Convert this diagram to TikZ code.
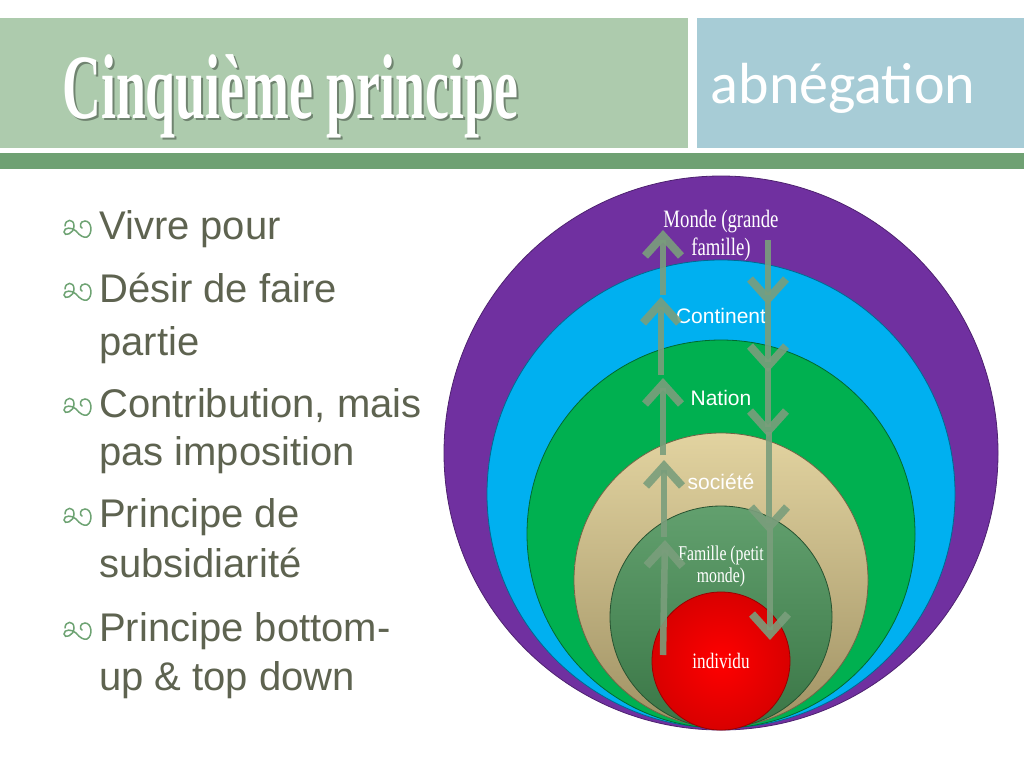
\documentclass[tikz,border=0pt]{standalone}
\usepackage{fontspec}
\usetikzlibrary{arrows.meta}
\newfontfamily\bodyfont{Liberation Sans}
\newfontfamily\serifc{Liberation Serif}
\newfontfamily\calib{Carlito}
\definecolor{titlegreen}{RGB}{173,203,173}
\definecolor{boxblue}{RGB}{167,204,214}
\definecolor{bargreen}{RGB}{111,161,115}
\definecolor{bodytext}{RGB}{94,99,80}
\definecolor{bulletgreen}{RGB}{110,163,115}
\definecolor{cpurple}{RGB}{112,48,160}
\definecolor{cblue}{RGB}{0,176,240}
\definecolor{cgreen}{RGB}{0,176,80}
\definecolor{tantop}{RGB}{226,211,160}
\definecolor{tanbot}{RGB}{160,146,100}
\definecolor{famtop}{RGB}{98,160,110}
\definecolor{fambot}{RGB}{58,118,70}
\definecolor{arrowc}{RGB}{122,158,124}
\tikzset{
  bodyline/.style={anchor=base west, align=left, text=bodytext,
    font=\bodyfont\fontsize{40}{50}\selectfont, inner sep=0pt},
  ringlabel/.style={text=white, font=\bodyfont\fontsize{21}{24}\selectfont, inner sep=0pt, anchor=base},
  upar/.style={draw=arrowc, opacity=0.9, line width=6.5pt,
    -{Straight Barb[length=20pt,width=36pt,line width=8pt]}},
  sobullet/.pic={
    \draw[bulletgreen, line width=1.5pt, line cap=round]
      (3,-13) .. controls (3,-20) and (12,-21) .. (12,-13)
      .. controls (12,-5) and (2,-2) .. (2,-7)
      .. controls (2,-12) and (10,-12) .. (14,-8)
      .. controls (18,-3) and (22,-1) .. (25,-2)
      .. controls (31,-5) and (30,-18) .. (23,-18)
      .. controls (18,-18) and (17,-12) .. (20,-11);
  }
}
\begin{document}
\begin{tikzpicture}[x=1pt,y=-1pt]
\useasboundingbox (0,0) rectangle (1024,768);
\fill[white] (0,0) rectangle (1024,768);
% header
\fill[titlegreen] (0,18) rectangle (688,148);
\fill[boxblue] (697,18) rectangle (1024,148);
\fill[bargreen] (0,153) rectangle (1024,169);
\node[anchor=base west, inner sep=0pt, text=black, opacity=0.35] (titleshadow) at (64,120)
  {\serifc\bfseries\fontsize{92}{92}\selectfont\scalebox{0.585}[1]{Cinquième principe}};
\node[anchor=base west, inner sep=0pt, text=white] (title) at (62,118)
  {\serifc\bfseries\fontsize{92}{92}\selectfont\scalebox{0.585}[1]{Cinquième principe}};
\node[anchor=base, inner sep=0pt, text=white] (subtitle) at (843,103)
  {\calib\fontsize{58}{58}\selectfont abnégation};
% bullets
\pic at (62,239) {sobullet};
\pic at (62,302) {sobullet};
\pic at (62,417) {sobullet};
\pic at (62,527) {sobullet};
\pic at (62,641) {sobullet};
\node[bodyline] (b1) at (99,239) {Vivre pour};
\node[bodyline] (b2) at (99,355) {Désir de faire\\[3pt]partie};
\node[bodyline] (b3) at (99,465) {Contribution, mais\\[-2pt]pas imposition};
\node[bodyline] (b4) at (99,577) {Principe de\\subsidiarité};
\node[bodyline] (b5) at (99,690) {Principe bottom-\\[-1pt]up \& top down};
% circles
\fill[cpurple] (721,453) circle (277);
\draw[cpurple!70!black, line width=0.8pt] (721,453) circle (277);
\fill[cblue] (721,494) circle (234);
\draw[cblue!60!black, line width=0.8pt] (721,494) circle (234);
\fill[cgreen] (721,534) circle (194);
\draw[cgreen!60!black, line width=0.8pt] (721,534) circle (194);
\shade[top color=tantop, bottom color=tanbot] (721,580) circle (147);
\draw[tanbot!70!black, line width=0.8pt] (721,580) circle (147);
\shade[top color=famtop, bottom color=fambot] (721,617) circle (111);
\draw[fambot!70!black, line width=0.8pt] (721,617) circle (111);
\shade[inner color=red, outer color=red!85!black] (721,661) circle (69);
\draw[red!60!black, line width=0.8pt] (721,661) circle (69);
% labels
\node[anchor=base, inner sep=0pt, text=white, align=center,
  font=\serifc\fontsize{25}{28}\selectfont] (monde) at (721,255)
  {\scalebox{0.75}[1]{Monde (grande}\\\scalebox{0.75}[1]{famille)}};
\node[ringlabel] (continent) at (721,323) {Continent};
\node[ringlabel] (nation) at (721,405) {Nation};
\node[ringlabel] (societe) at (721,489) {société};
\node[anchor=base, inner sep=0pt, text=white, align=center,
  font=\serifc\fontsize{21}{22}\selectfont] (famille) at (721,582)
  {\scalebox{0.75}[1]{Famille (petit}\\\scalebox{0.75}[1]{monde)}};
\node[anchor=base, inner sep=0pt, text=white] (individu) at (721,668)
  {\serifc\fontsize{22}{22}\selectfont\scalebox{0.78}[1]{individu}};
% arrow coordinates
\coordinate (L1s) at (663,655); \coordinate (L1t) at (665,540);
\coordinate (L2s) at (664,537); \coordinate (L2t) at (664,460);
\coordinate (L3s) at (663,455); \coordinate (L3t) at (663,378);
\coordinate (L4s) at (661,375); \coordinate (L4t) at (661,297);
\coordinate (L5s) at (663,295); \coordinate (L5t) at (663,230);
\coordinate (R1s) at (768,240); \coordinate (R1t) at (768,305);
\coordinate (R2s) at (768,300); \coordinate (R2t) at (768,372);
\coordinate (R3s) at (768,368); \coordinate (R3t) at (768,437);
\coordinate (R4s) at (769,432); \coordinate (R4t) at (769,533);
\coordinate (R5s) at (770,528); \coordinate (R5t) at (770,640);
\foreach \i in {1,...,5} {
  \draw[upar] (L\i s) -- (L\i t);
  \draw[upar] (R\i s) -- (R\i t);
}
\end{tikzpicture}
\end{document}
